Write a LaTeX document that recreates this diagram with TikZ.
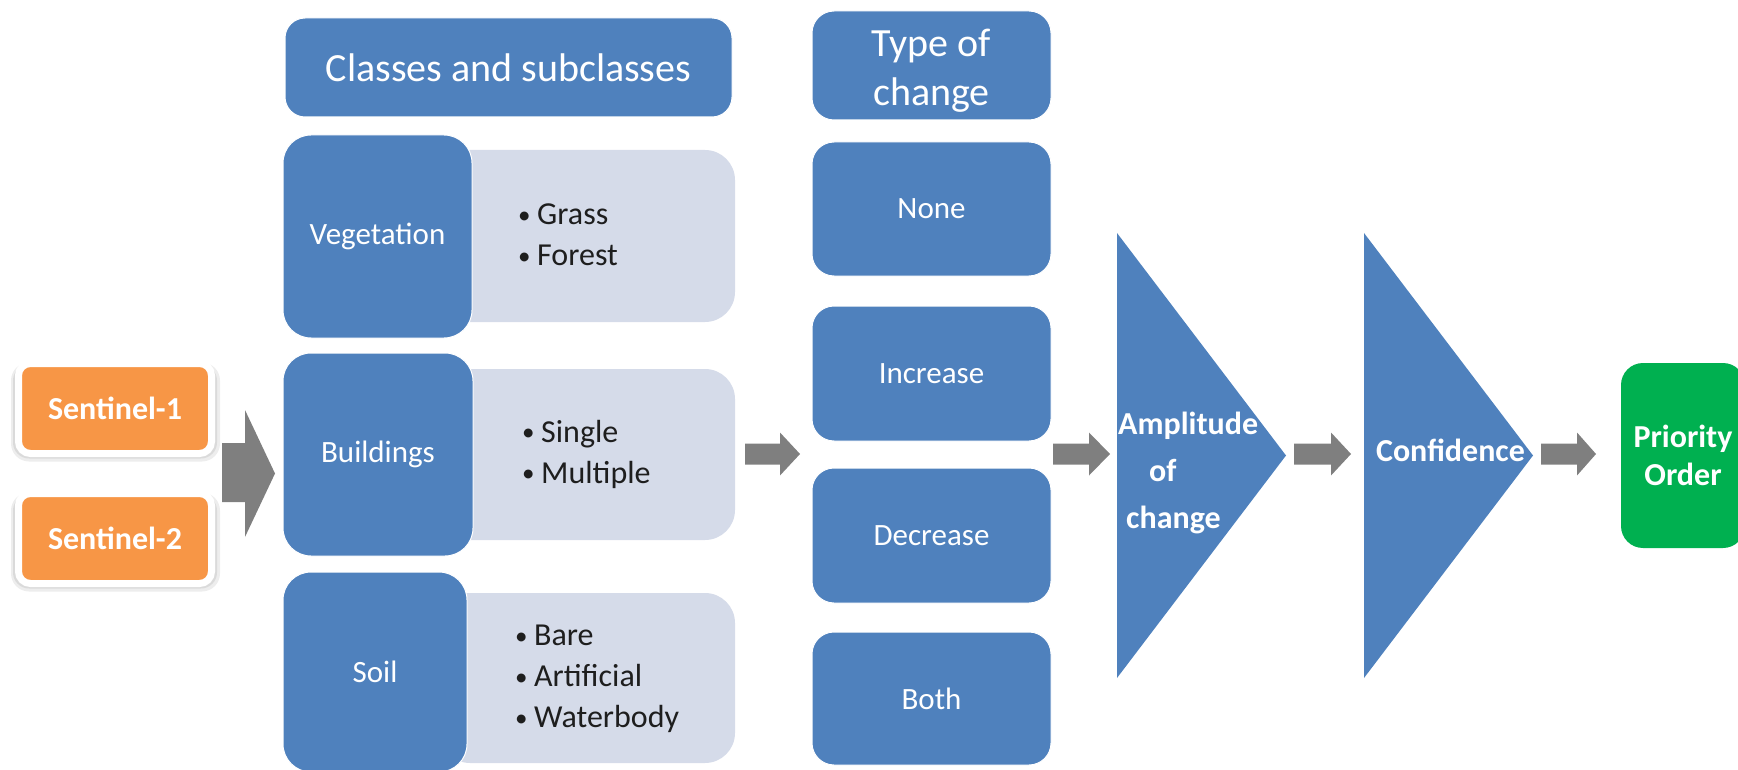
\documentclass[tikz,border=0pt]{standalone}
\usepackage{fontspec}
\setmainfont{Carlito}
\definecolor{oblue}{HTML}{4F81BD}
\definecolor{olight}{HTML}{D5DBE9}
\definecolor{oorange}{HTML}{F79646}
\definecolor{ogreen}{HTML}{00B050}
\definecolor{ogray}{HTML}{7F7F7F}
\definecolor{otext}{HTML}{1E1E1E}
\newcommand\blt{\makebox[19pt][l]{\raisebox{1.5pt}{\fontsize{25}{25}\selectfont •}}}
\newcommand\garrow[4]{\fill[ogray] (#1,#4-10.5) -- (#3,#4-10.5) -- (#3,#4-21.5) -- (#2,#4) -- (#3,#4+21.5) -- (#3,#4+10.5) -- (#1,#4+10.5) -- cycle;}
\begin{document}
\begin{tikzpicture}[x=1pt,y=-1pt,
  bluebox/.style={rectangle, fill=oblue, draw=white, line width=1pt, rounded corners=#1, inner sep=0pt, text=white},
  bluebox/.default=20pt,
  lbl/.style={font=\fontsize{31}{37}\selectfont},
  hdr/.style={font=\fontsize{40}{49}\selectfont, align=center},
  bld/.style={text=white, font=\bfseries\fontsize{32}{38}\selectfont},
  bul/.style={text=otext, font=\fontsize{32}{41}\selectfont, align=left, inner sep=0pt, anchor=west},
  sentbox/.style={rectangle, rounded corners=12pt, fill=oorange, draw=white, line width=7pt,
    minimum width=193pt, minimum height=90pt, inner sep=0pt, text=white,
    font=\bfseries\fontsize{32}{38}\selectfont},
  lightbox/.style={fill=olight, rounded corners=30pt}
]
\useasboundingbox (0,0) rectangle (1738,770);
\clip (0,0) rectangle (1738,770);

% soft shadows of the sentinel boxes
\foreach \yy in {408.5,538.5}{
  \fill[black, opacity=0.07, rounded corners=18pt] (11,\yy-46) rectangle (220,\yy+53);
  \fill[black, opacity=0.08, rounded corners=16pt] (13,\yy-44) rectangle (217,\yy+50);
}
\node[sentbox] (s1) at (115,408.5) {Sentinel-1};
\node[sentbox] (s2) at (115,538.5) {Sentinel-2};

% big input arrow
\fill[ogray] (222,443) -- (245,443) -- (245,410) -- (275,473.5) -- (245,537) -- (245,502) -- (222,502) -- cycle;

% classes column
\node[bluebox=20pt, hdr, minimum width=447pt, minimum height=99pt] (hdr) at (508.5,67.5) {Classes and subclasses};

\fill[lightbox] (440,150) rectangle (735,322);
\fill[lightbox] (440,369) rectangle (735,540);
\fill[lightbox] (440,593) rectangle (735,763);

\node[bluebox=28pt, lbl, minimum width=189pt, minimum height=203pt] (veg) at (377.5,236.5) {Vegetation};
\node[bluebox=28pt, lbl, minimum width=190pt, minimum height=203pt] (bld) at (378,454.5) {Buildings};
\node[bluebox=28pt, lbl, minimum width=184pt, minimum height=200pt] (soil) at (375,672) {Soil};

\node[bul] (vegl) at (518,235) {\blt Grass\\\blt Forest};
\node[bul] (bldl) at (522,454) {\blt Single\\\blt Multiple};
\node[bul] (soill) at (515,679) {\blt Bare\\\blt Artificial\\\blt Waterbody};

% type of change column
\node[bluebox=22pt, hdr, minimum width=239pt, minimum height=109pt] (type) at (931.5,65.5) {\rule{0pt}{38pt}Type of\\change};
\node[bluebox=22pt, lbl, minimum width=239pt, minimum height=134pt] (none) at (931.5,209) {None};
\node[bluebox=22pt, lbl, minimum width=239pt, minimum height=135pt] (inc) at (931.5,373.5) {Increase};
\node[bluebox=22pt, lbl, minimum width=239pt, minimum height=135pt] (dec) at (931.5,535.5) {Decrease};
\node[bluebox=22pt, lbl, minimum width=239pt, minimum height=133pt] (both) at (931.5,698.5) {Both};

% block arrows
\garrow{745}{800}{780}{454}
\garrow{1053}{1110}{1089}{454}
\garrow{1294}{1351}{1331}{454}
\garrow{1541}{1596}{1577}{454}

% chevrons
\fill[oblue] (1117,233) -- (1286,455.5) -- (1117,678) -- cycle;
\fill[oblue] (1364,233) -- (1533,455.5) -- (1364,678) -- cycle;
\node[bld, font=\bfseries\fontsize{32}{47}\selectfont, align=left, anchor=west, inner sep=0pt] (amp) at (1118,473) {Amplitude\\\hspace*{31pt}of\\\hspace*{8pt}change};
\node[bld, inner sep=0pt] (conf) at (1450.5,450) {Confidence};

% output
\node[rectangle, rounded corners=22pt, fill=ogreen, minimum width=124pt, minimum height=185pt,
  inner sep=0pt, bld, font=\bfseries\fontsize{32}{38}\selectfont, align=center] (prio) at (1683,455.5) {Priority\\Order};
\end{tikzpicture}
\end{document}
